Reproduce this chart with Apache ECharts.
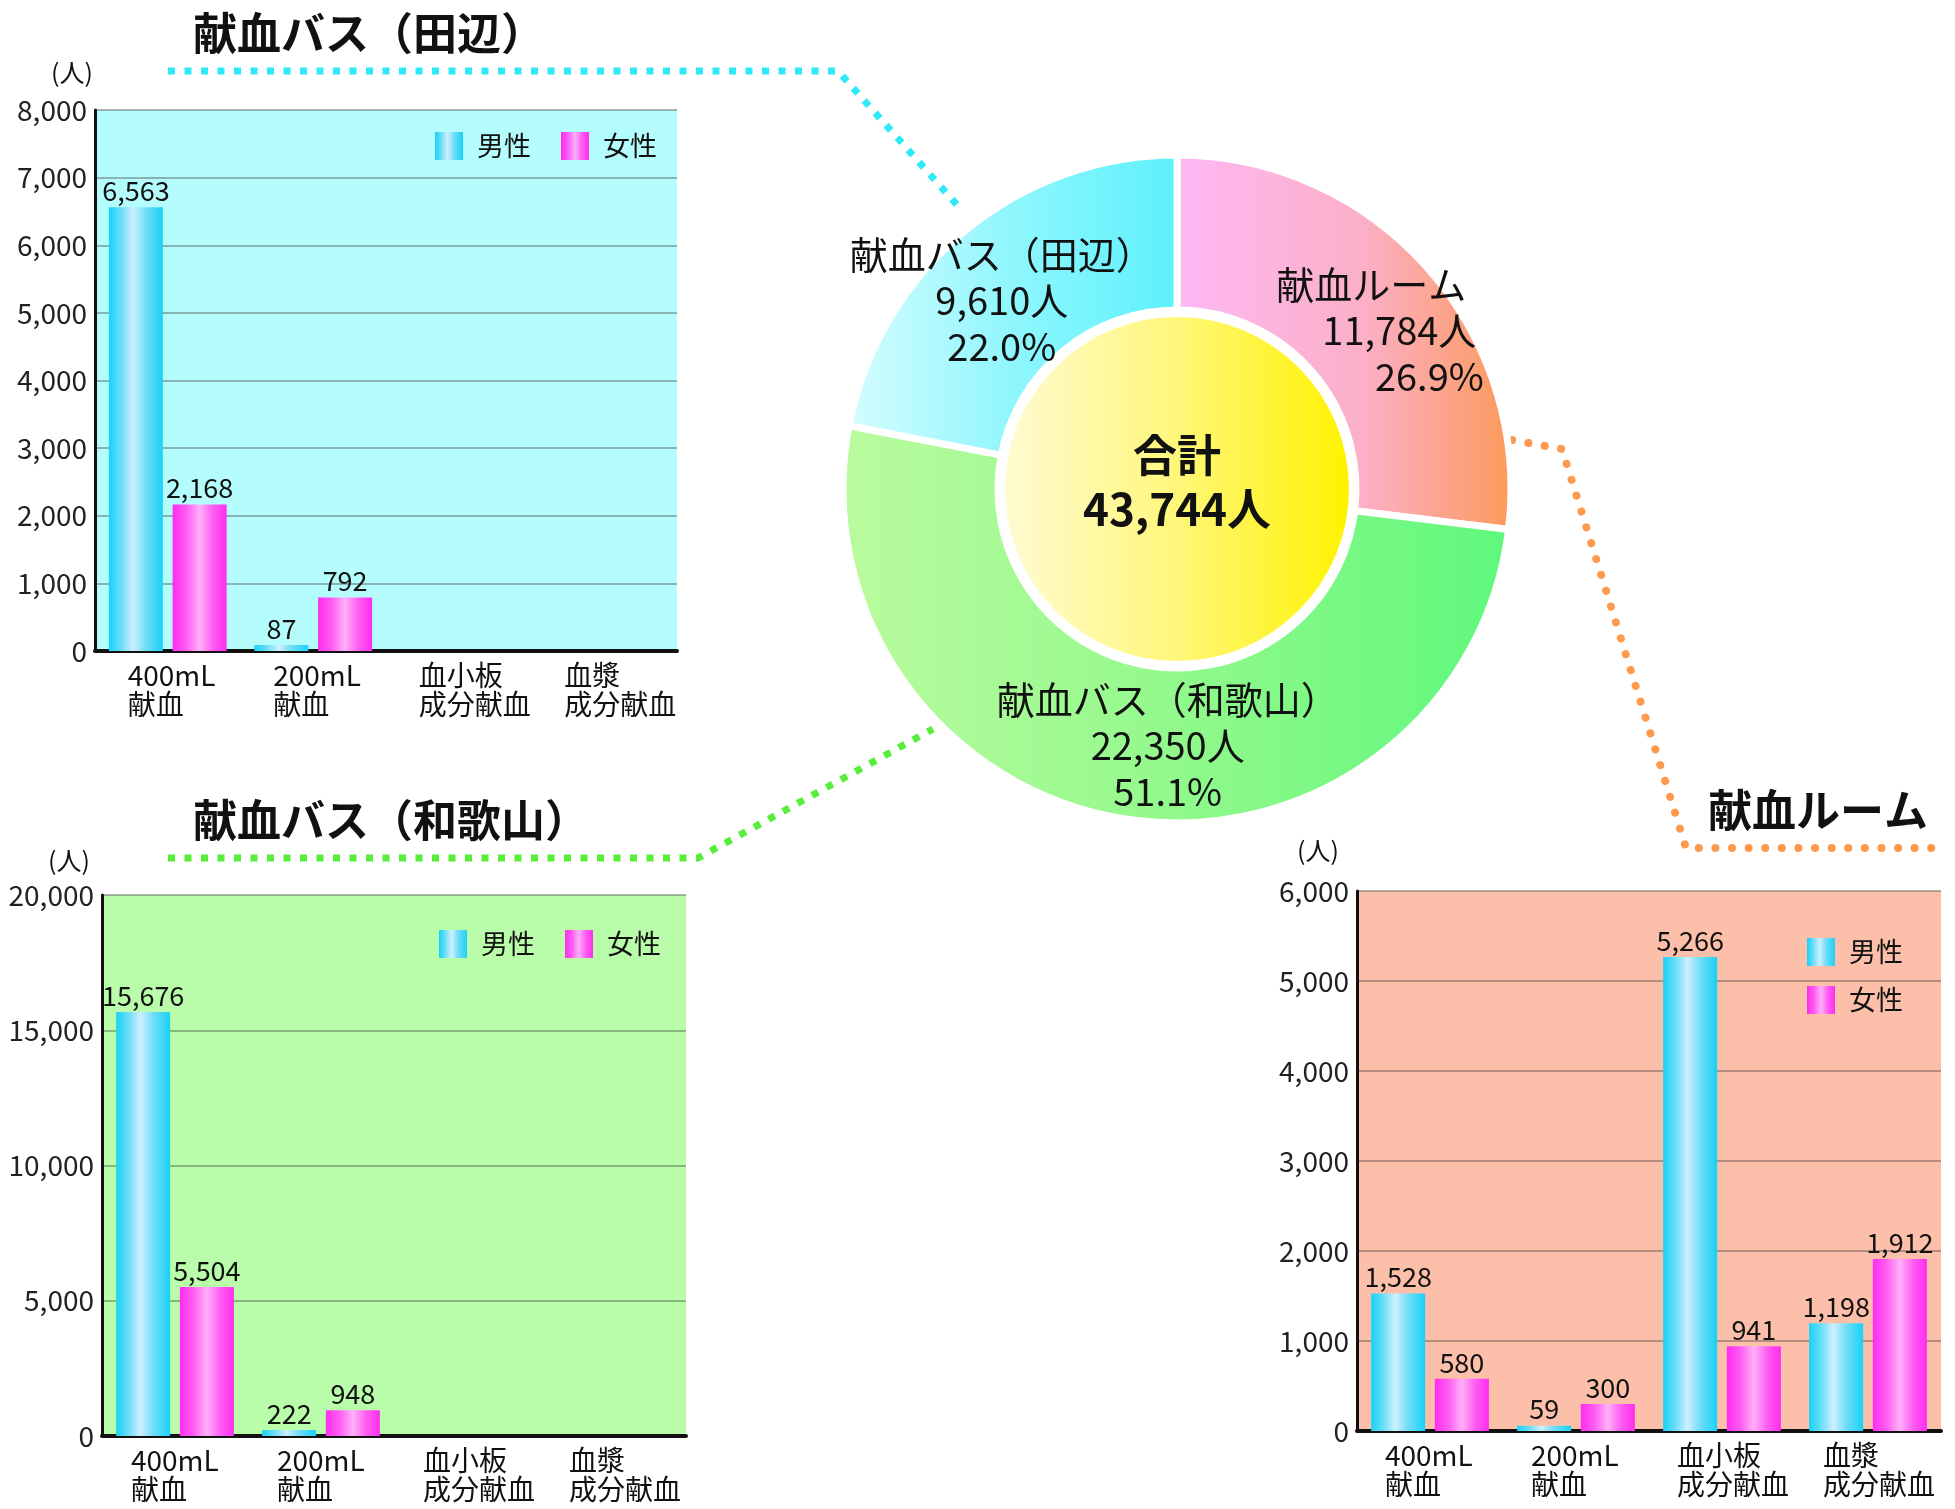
<!DOCTYPE html>
<html>
<head>
<meta charset="utf-8">
<script src="https://cdn.jsdelivr.net/npm/echarts@6/dist/echarts.min.js"></script>
<style>
  html, body { margin: 0; padding: 0; background: #fff; }
  #main { width: 1955px; height: 1509px; }
</style>
</head>
<body>
<div id="main"></div>
<script>
// 献血者数（献血場所別・種類別）
const categories = ['400mL\n献血', '200mL\n献血', '血小板\n成分献血', '血漿\n成分献血'];
const sexNames = ['男性', '女性'];

const tanabeMale = [6563, 87, null, null];
const tanabeFemale = [2168, 792, null, null];
const wakayamaMale = [15676, 222, null, null];
const wakayamaFemale = [5504, 948, null, null];
const roomMale = [1528, 59, 5266, 1198];
const roomFemale = [580, 300, 941, 1912];

const siteNames = ['献血ルーム', '献血バス（和歌山）', '献血バス（田辺）'];
const siteTotals = [11784, 22350, 9610];
const sitePercents = ['26.9%', '51.1%', '22.0%'];
const grandTotal = 43744;

const FONT = '"Noto Sans CJK JP", "Noto Sans", sans-serif';
const fmt = (v) => v.toLocaleString('en-US');

const maleColor = new echarts.graphic.LinearGradient(0, 0, 1, 0, [
    { offset: 0, color: '#18d2f6' },
    { offset: 0.2, color: '#5fdcf8' },
    { offset: 0.45, color: '#cdeffd' },
    { offset: 0.7, color: '#6cdcf8' },
    { offset: 1, color: '#18d2f6' },
]);
const femaleColor = new echarts.graphic.LinearGradient(0, 0, 1, 0, [
    { offset: 0, color: '#ff2cf0' },
    { offset: 0.25, color: '#ff5cf2' },
    { offset: 0.5, color: '#ffb0f8' },
    { offset: 0.75, color: '#ff5cf2' },
    { offset: 1, color: '#ff2cf0' },
]);

const grids = [
    { left: 95, top: 110, width: 582, height: 541, bg: '#b4fdfc', max: 8000, interval: 1000, nameShift: 46, nameGap: 38, labelW: 80 },
    { left: 102, top: 895, width: 584, height: 541, bg: '#b9fca9', max: 20000, interval: 5000, nameShift: 66, nameGap: 35, labelW: 88 },
    { left: 1357, top: 891, width: 584, height: 540, bg: '#fcbfaa', max: 6000, interval: 1000, nameShift: 78, nameGap: 41, labelW: 90 },
];

function barSeries(name, data, idx) {
    return {
        name: name,
        type: 'bar',
        xAxisIndex: idx,
        yAxisIndex: idx,
        data: data,
        barWidth: 54,
        barGap: '18%',
        itemStyle: { color: name === '男性' ? maleColor : femaleColor },
        label: {
            show: true,
            position: 'top',
            distance: 3,
            color: '#111',
            fontSize: 27,
            fontFamily: FONT,
            formatter: (p) => fmt(p.value),
        },
    };
}

const pieColors = [
    [['#ffb8f4', 0], ['#fbb0c8', 0.55], ['#fc9a58', 1]],
    [['#bafb9e', 0], ['#92f98c', 0.5], ['#5ef87c', 1]],
    [['#d6fdff', 0], ['#8ff6fd', 0.5], ['#5cf1fc', 1]],
];
// label block nudges inside each slice
const piePads = [[28, 0, 0, 0], [0, 0, 0, 62], [24, 20, 0, 0]];

const legendText = { fontSize: 27, color: '#111', padding: [0, 0, 0, 9] };

const option = {
    animation: false,
    textStyle: { fontFamily: FONT },
    title: [
        { text: '献血バス（田辺）', left: 188, top: 6, textStyle: { fontSize: 44, fontWeight: 'bold', color: '#111', fontFamily: FONT } },
        { text: '献血バス（和歌山）', left: 188, top: 793, textStyle: { fontSize: 44, fontWeight: 'bold', color: '#111', fontFamily: FONT } },
        { text: '献血ルーム', left: 1703, top: 783, textStyle: { fontSize: 44, fontWeight: 'bold', color: '#111', fontFamily: FONT } },
    ],
    legend: [
        { data: sexNames, icon: 'rect', left: 430, top: 127, itemWidth: 28, itemHeight: 28, itemGap: 30, textStyle: legendText },
        { data: sexNames, icon: 'rect', left: 434, top: 925, itemWidth: 28, itemHeight: 28, itemGap: 30, textStyle: legendText },
        { data: sexNames, icon: 'rect', left: 1802, top: 933, orient: 'vertical', itemWidth: 28, itemHeight: 28, itemGap: 20, textStyle: legendText },
    ],
    grid: grids.map((g) => ({
        left: g.left, top: g.top, width: g.width, height: g.height,
        show: true, backgroundColor: g.bg, borderWidth: 0,
    })),
    xAxis: grids.map((g, i) => ({
        type: 'category',
        gridIndex: i,
        data: categories,
        axisLine: { lineStyle: { color: '#111', width: 4 } },
        axisTick: { show: false },
        axisLabel: {
            interval: 0,
            margin: 10,
            align: 'center',
            fontSize: 28,
            lineHeight: 29,
            color: '#111',
            formatter: (v) => v.split('\n').map((s) => '{a|' + s + '}').join('\n'),
            rich: { a: { width: g.labelW, align: 'left', fontSize: 28, lineHeight: 29, color: '#111', fontFamily: FONT } },
        },
    })),
    yAxis: grids.map((g, i) => ({
        type: 'value',
        gridIndex: i,
        min: 0,
        max: g.max,
        interval: g.interval,
        name: '(人)',
        nameLocation: 'end',
        nameGap: g.nameGap,
        nameTextStyle: { fontSize: 25, color: '#111', align: 'center', verticalAlign: 'middle', padding: [0, g.nameShift, 0, 0] },
        axisLine: { show: true, lineStyle: { color: '#111', width: 3 } },
        axisTick: { show: false },
        axisLabel: { fontSize: 28, color: '#222', margin: 8, formatter: (v) => fmt(v) },
        splitLine: { lineStyle: { color: 'rgba(60,60,60,0.38)', width: 2 } },
    })),
    series: [
        barSeries('男性', tanabeMale, 0),
        barSeries('女性', tanabeFemale, 0),
        barSeries('男性', wakayamaMale, 1),
        barSeries('女性', wakayamaFemale, 1),
        barSeries('男性', roomMale, 2),
        barSeries('女性', roomFemale, 2),
        {
            type: 'pie',
            center: [1177, 489],
            radius: [179, 334],
            startAngle: 90,
            clockwise: true,
            silent: true,
            itemStyle: { borderColor: '#fff', borderWidth: 7 },
            labelLine: { show: false },
            label: {
                show: true,
                position: 'inside',
                color: '#111',
                fontSize: 38,
                lineHeight: 46,
                fontFamily: FONT,
                rich: {
                    a: { fontSize: 38, lineHeight: 46, color: '#111', fontFamily: FONT },
                    b: { fontSize: 38, lineHeight: 46, color: '#111', fontFamily: FONT, padding: [0, 0, 0, 56] },
                    c: { fontSize: 38, lineHeight: 46, color: '#111', fontFamily: FONT, padding: [0, 0, 0, 116] },
                },
            },
            data: siteNames.map((n, i) => ({
                name: n,
                value: siteTotals[i],
                itemStyle: {
                    color: new echarts.graphic.LinearGradient(0, 0, 1, 0,
                        pieColors[i].map((c) => ({ offset: c[1], color: c[0] }))),
                },
                label: {
                    padding: piePads[i],
                    formatter: i === 0
                        ? '{a|' + n + '}\n{b|' + fmt(siteTotals[i]) + '人}\n{c|' + sitePercents[i] + '}'
                        : '{a|' + n + '}\n{a|' + fmt(siteTotals[i]) + '人}\n{a|' + sitePercents[i] + '}',
                },
            })),
        },
        {
            type: 'pie',
            center: [1177, 489],
            radius: [0, 172],
            silent: true,
            labelLine: { show: false },
            label: {
                show: true,
                position: 'center',
                padding: [0, 0, 14, 0],
                formatter: '{t|合計}\n{t|' + fmt(grandTotal) + '人}',
                rich: { t: { fontSize: 44, lineHeight: 54, fontWeight: 'bold', color: '#111', fontFamily: FONT } },
            },
            data: [{
                name: '合計',
                value: grandTotal,
                itemStyle: {
                    color: new echarts.graphic.LinearGradient(0, 0, 1, 0, [
                        { offset: 0, color: '#fffbd2' },
                        { offset: 0.5, color: '#fff77a' },
                        { offset: 1, color: '#fff200' },
                    ]),
                },
            }],
        },
    ],
    graphic: [
        {
            type: 'polyline',
            shape: { points: [[168, 71], [838, 71], [958, 206]] },
            style: { stroke: '#2eeaf8', lineWidth: 7, lineDash: [7, 9.5], fill: null },
        },
        {
            type: 'polyline',
            shape: { points: [[168, 858], [698, 858], [933, 729]] },
            style: { stroke: '#57ee3a', lineWidth: 7, lineDash: [7, 9.5], fill: null },
        },
        {
            type: 'polyline',
            shape: { points: [[1512, 440], [1562, 449], [1686, 848], [1945, 848]] },
            style: { stroke: '#fd9a4e', lineWidth: 8, lineDash: [0.1, 16.5], lineCap: 'round', fill: null },
        },
    ],
};

const myChart = echarts.init(document.getElementById('main'));
myChart.setOption(option);
</script>
</body>
</html>
